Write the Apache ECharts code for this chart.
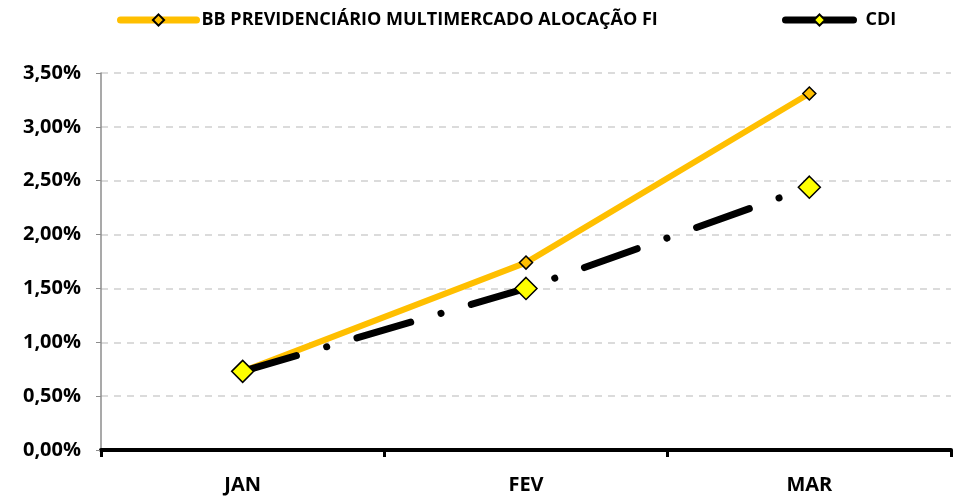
<!DOCTYPE html>
<html><head><meta charset="utf-8">
<script src="https://cdn.jsdelivr.net/npm/echarts@6/dist/echarts.min.js"></script>
<style>html,body{margin:0;padding:0;background:#fff}#c{width:956px;height:496px}</style>
</head><body><div id="c"></div>
<script>
const categories = ['JAN', 'FEV', 'MAR'];
const bbValues = [0.73, 1.74, 3.31];
const cdiValues = [0.73, 1.50, 2.44];
const yTicks = {min: 0, max: 3.5, interval: 0.5};
const seriesNames = ['BB PREVIDENCIÁRIO MULTIMERCADO ALOCAÇÃO FI', 'CDI'];

const FONT = '"Open Sans", sans-serif';
const chart = echarts.init(document.getElementById('c'));
chart.setOption({
  animation: false,
  backgroundColor: '#fff',
  textStyle: {fontFamily: FONT},
  legend: [
    {data: [seriesNames[0]], left: 112, top: 6, itemWidth: 76, itemHeight: 14,
     lineStyle: {width: 7, cap: 'round'},
     textStyle: {fontFamily: FONT, fontWeight: 'bold', fontSize: 18, color: '#000'}},
    {data: [seriesNames[1]], left: 777, top: 6, itemWidth: 68, itemHeight: 14,
     lineStyle: {width: 7, type: 'solid', cap: 'round'},
     textStyle: {fontFamily: FONT, fontWeight: 'bold', fontSize: 18, color: '#000', padding: [0, 0, 0, 7]}}
  ],
  grid: {left: 101, right: 5, top: 73, bottom: 46, containLabel: false},
  xAxis: {
    type: 'category', data: categories, boundaryGap: true,
    axisLine: {lineStyle: {color: '#000', width: 4}},
    axisTick: {show: true, length: 7, lineStyle: {color: '#000', width: 3}},
    axisLabel: {fontFamily: FONT, fontWeight: 'bold', fontSize: 20, color: '#000', margin: 25}
  },
  yAxis: {
    type: 'value', min: yTicks.min, max: yTicks.max, interval: yTicks.interval,
    axisLine: {show: true, lineStyle: {color: '#8c8c8c', width: 1.5}},
    axisTick: {show: true, length: 5, lineStyle: {color: '#8c8c8c'}},
    splitLine: {lineStyle: {color: '#d0d0d0', type: [7, 6], width: 1.5}},
    axisLabel: {fontFamily: FONT, fontWeight: 'bold', fontSize: 20, color: '#000', margin: 20,
      formatter: v => v.toFixed(2).replace('.', ',') + '%'}
  },
  series: [
    {name: seriesNames[0], type: 'line', data: bbValues, z: 2,
     symbol: 'diamond', symbolSize: 13,
     lineStyle: {color: '#FFBF00', width: 6},
     itemStyle: {color: '#FFBF00', borderColor: '#000', borderWidth: 1.5}},
    {name: seriesNames[1], type: 'line', data: cdiValues, z: 3,
     symbol: 'diamond', symbolSize: 22,
     lineStyle: {color: '#000', width: 7, type: [56, 31.5, 0.1, 31.5], cap: 'round'},
     itemStyle: {color: '#FFFF00', borderColor: '#000', borderWidth: 1.5}}
  ]
});
</script></body></html>
